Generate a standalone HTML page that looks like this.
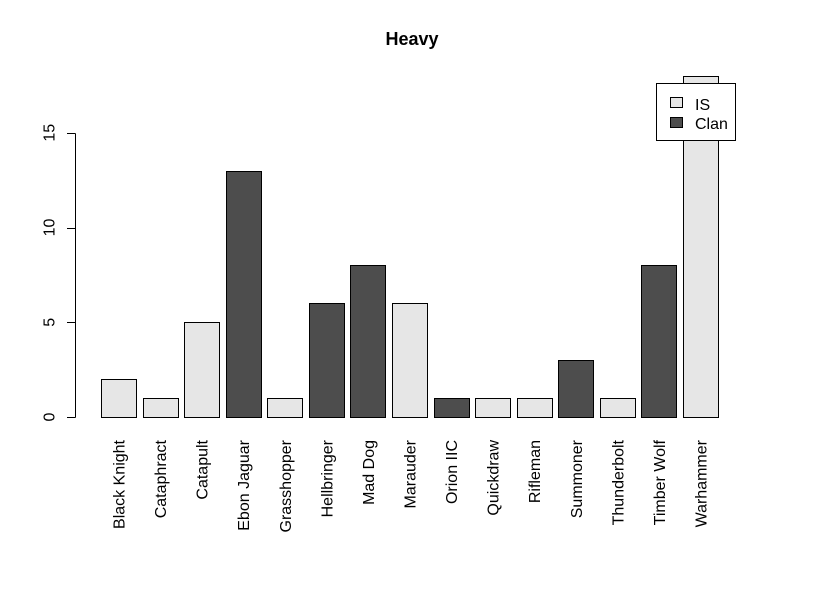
<!DOCTYPE html>
<html><head><meta charset="utf-8"><style>
html,body{margin:0;padding:0;background:#fff}
svg{display:block;font-family:"Liberation Sans",Arial,sans-serif}
</style></head><body>
<svg id="chart" width="820" height="613" viewBox="0 0 820 613">
<rect width="820" height="613" fill="#fff"/>
<text x="412" y="45" text-anchor="middle" font-size="18" font-weight="bold">Heavy</text>
<g id="yaxis"></g>
<g id="bars"></g>
<g id="xlabels"></g>
<g>
<rect x="656.5" y="83.5" width="79" height="57" fill="#fff" stroke="#000"/>
<rect x="670.5" y="97.5" width="12" height="10" fill="#e6e6e6" stroke="#000"/>
<text x="695" y="110" font-size="16">IS</text>
<rect x="670.5" y="117.5" width="12" height="10" fill="#4d4d4d" stroke="#000"/>
<text x="695" y="129" font-size="16">Clan</text>
</g>
</svg>
<script>
const categories=["Black Knight","Cataphract","Catapult","Ebon Jaguar","Grasshopper","Hellbringer","Mad Dog","Marauder","Orion IIC","Quickdraw","Rifleman","Summoner","Thunderbolt","Timber Wolf","Warhammer"];
const values=[2,1,5,13,1,6,8,6,1,1,1,3,1,8,18];
const factions=["IS","IS","IS","Clan","IS","Clan","Clan","IS","Clan","IS","IS","Clan","IS","Clan","IS"];
const yTicks=[0,5,10,15];
const NS="http://www.w3.org/2000/svg";
const y0=417, pxPerUnit=18.95;
function yScale(v){return y0-v*pxPerUnit;}
function xScale(i){return 101+i*41.57;}
const barW=35;
const ya=document.getElementById('yaxis');
let l=document.createElementNS(NS,'line');
l.setAttribute('x1',75.5);l.setAttribute('x2',75.5);l.setAttribute('y1',Math.round(yScale(0))+0.5);l.setAttribute('y2',Math.round(yScale(15))+0.5);l.setAttribute('stroke','#000');


ya.appendChild(l);
yTicks.forEach(t=>{
 const tk=document.createElementNS(NS,'line');
 tk.setAttribute('x1',67);tk.setAttribute('x2',75.5);tk.setAttribute('y1',Math.round(yScale(t))+0.5);tk.setAttribute('y2',Math.round(yScale(t))+0.5);tk.setAttribute('stroke','#000');
 
 
 ya.appendChild(tk);
 const tx=document.createElementNS(NS,'text');
 const yy=yScale(t);
 tx.setAttribute('transform','translate(54.5,'+yy+') rotate(-90)');
 tx.setAttribute('text-anchor','middle');tx.setAttribute('font-size','16');tx.setAttribute('fill','#000');
 tx.textContent=t;
 
 
 ya.appendChild(tx);
});
const bg=document.getElementById('bars'), xl=document.getElementById('xlabels');
categories.forEach((c,i)=>{
 const r=document.createElementNS(NS,'rect');
 const x=xScale(i), top=yScale(values[i]);
 r.setAttribute('x',Math.round(x)+0.5);r.setAttribute('y',Math.round(top)+0.5);
 r.setAttribute('width',barW);r.setAttribute('height',Math.round(y0)-Math.round(top));
 r.setAttribute('fill',factions[i]==='IS'?'#e6e6e6':'#4d4d4d');r.setAttribute('stroke','#000');
 
 
 bg.appendChild(r);
 const t=document.createElementNS(NS,'text');
 t.setAttribute('transform','translate('+(x+barW/2+6)+',440) rotate(-90)');
 t.setAttribute('text-anchor','end');t.setAttribute('font-size','16');
 t.textContent=c;
 
 
 xl.appendChild(t);
});
</script>
</body></html>
